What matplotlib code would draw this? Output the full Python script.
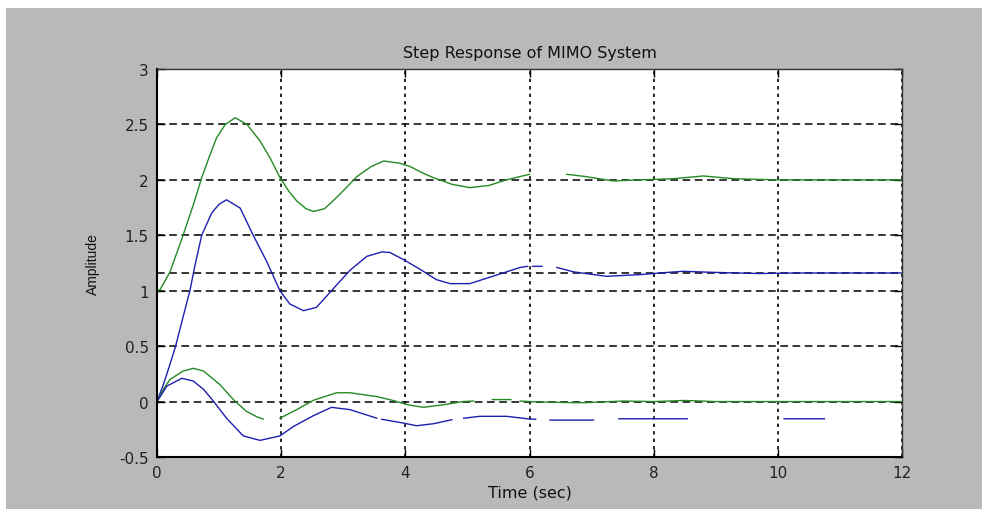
"""
Step response of a 2x2 MIMO system, redrawn in the old MATLAB look
"""

import numpy as np
import matplotlib
matplotlib.use("Agg")
import matplotlib.pyplot as plt
from matplotlib.patches import Rectangle

nan = np.nan

# upper green channel (starts at 1, settles at 2)
t_g1 = [0, 0.05, 0.21, 0.42, 0.6, 0.72, 0.85, 0.96, 1.1, 1.26, 1.45, 1.66, 1.82, 1.98,
        2.12, 2.25, 2.4, 2.52, 2.7, 2.89, 3.05, 3.22, 3.45, 3.65, 3.91, 4.08, 4.25, 4.45,
        4.75, 5.04, 5.35, 5.63, 5.85, 6.0, nan, 6.6, 6.9, 7.35, 7.78, 8.3, 8.8, 9.3, 10, 11, 12]
y_g1 = [1.0, 1.01, 1.17, 1.5, 1.8, 2.02, 2.22, 2.38, 2.5, 2.56, 2.5, 2.35, 2.2, 2.02,
        1.9, 1.81, 1.74, 1.715, 1.74, 1.84, 1.93, 2.03, 2.12, 2.17, 2.15, 2.12, 2.07, 2.02,
        1.96, 1.93, 1.95, 2.0, 2.03, 2.05, nan, 2.05, 2.03, 1.99, 2.0, 2.01, 2.035, 2.01, 2.0, 2.0, 2.0]

# upper blue channel (settles at about 1.16)
t_b1 = [0, 0.1, 0.2, 0.3, 0.4, 0.53, 0.62, 0.72, 0.88, 1.0, 1.12, 1.34, 1.55, 1.77, 1.98, 2.14,
        2.36, 2.57, 2.81, 3.11, 3.38, 3.62, 3.75, 3.99, 4.29, 4.5, 4.72, 5.04, 5.35, 5.63,
        5.85, 5.97, nan, 6.05, 6.2, nan, 6.44, 6.71, 7.24, 7.78, 8.1, 8.47, 9.0, 9.71, 10.3, 11, 12]
y_b1 = [0, 0.15, 0.32, 0.5, 0.72, 1.0, 1.25, 1.5, 1.7, 1.78, 1.82, 1.745, 1.5, 1.26, 1.0, 0.88,
        0.82, 0.85, 1.0, 1.185, 1.31, 1.35, 1.345, 1.275, 1.175, 1.1, 1.064, 1.064, 1.12, 1.17,
        1.21, 1.22, nan, 1.22, 1.22, nan, 1.21, 1.17, 1.13, 1.145, 1.16, 1.175, 1.165, 1.155, 1.16, 1.16, 1.16]

# lower green channel (settles at 0)
t_g2 = [0, 0.1, 0.21, 0.42, 0.585, 0.75, 1.01, 1.23, 1.44, 1.6, 1.71, nan, 1.98, 2.25,
        2.52, 2.89, 3.1, 3.54, 3.8, 4.05, 4.29, 4.6, 4.93, 5.1, nan, 5.4, 5.7, nan, 5.85,
        6.0, 6.27, 6.7, 6.9, 7.5, 8, 8.5, 9, 10, 11, 12]
y_g2 = [0, 0.11, 0.2, 0.275, 0.3, 0.275, 0.155, 0.018, -0.088, -0.135, -0.158, nan, -0.15, -0.073,
        0.012, 0.079, 0.08, 0.045, 0.01, -0.03, -0.052, -0.03, 0.0, 0.005, nan, 0.018, 0.018, nan, 0.005,
        0.0, -0.005, -0.01, -0.01, 0.005, 0.0, 0.01, 0.0, 0.0, 0.0, 0.0]

# lower blue channel (settles at about -0.15, drawn broken after 6 s)
t_b2 = [0, 0.16, 0.4, 0.585, 0.75, 0.91, 1.12, 1.39, 1.66, 1.98, 2.2, 2.52, 2.81, 3.11,
        3.54, nan, 3.62, 3.97, 4.18, 4.45, 4.75, nan, 4.94, 5.2, 5.63, 5.96, 6.1, nan,
        6.33, 7.03, nan, 7.44, 8.54, nan, 10.1, 10.75]
y_b2 = [0, 0.14, 0.21, 0.185, 0.11, 0.003, -0.15, -0.31, -0.35, -0.31, -0.224, -0.127, -0.052, -0.073,
        -0.15, nan, -0.16, -0.194, -0.218, -0.2, -0.164, nan, -0.15, -0.133, -0.133, -0.155, -0.16, nan,
        -0.167, -0.167, nan, -0.155, -0.155, nan, -0.155, -0.155]

steady_blue = 1.16

x_ticks = [0, 2, 4, 6, 8, 10, 12]
y_ticks = [-0.5, 0, 0.5, 1, 1.5, 2, 2.5, 3]
y_tick_labels = ["-0.5", "0", "0.5", "1", "1.5", "2", "2.5", "3"]

GREEN = "#238a23"
BLUE = "#1e1eb0"
GRAY = "#b9b9b9"

fig = plt.figure(figsize=(9.82, 5.10), dpi=100)
fig.patch.set_facecolor("white")
fig.add_artist(Rectangle((6 / 982, 0), 1, 1 - 9 / 510, transform=fig.transFigure,
                         facecolor=GRAY, edgecolor="none", zorder=-1))

ax = fig.add_axes([157 / 982, 1 - 458 / 510, 745 / 982, 388 / 510])
ax.set_facecolor("white")

ax.plot(t_g1, y_g1, color=GREEN, lw=1.0)
ax.plot(t_b1, y_b1, color=BLUE, lw=1.0)
ax.plot(t_g2, y_g2, color=GREEN, lw=1.0)
ax.plot(t_b2, y_b2, color=BLUE, lw=1.0)

# steady-state marker of the blue channel
ax.axhline(steady_blue, color="k", lw=1.1, ls=(0, (5, 3)), zorder=1)

ax.set_xlim(0, 12)
ax.set_ylim(-0.5, 3)
ax.set_xticks(x_ticks)
ax.set_yticks(y_ticks)
ax.set_yticklabels(y_tick_labels)

ax.xaxis.grid(True, color="k", lw=1.2, ls=(0, (2, 2.5)))
ax.yaxis.grid(True, color="k", lw=1.1, ls=(0, (5, 3)))
ax.set_axisbelow(True)

ax.tick_params(direction="in", length=6, width=1, top=True, right=True,
               labelsize=11, pad=6, colors="k")
for lab in ax.get_xticklabels() + ax.get_yticklabels():
    lab.set_family("DejaVu Sans")
    lab.set_color("#222222")

for side in ["left", "bottom"]:
    ax.spines[side].set_linewidth(1.5)
    ax.spines[side].set_color("k")
for side in ["top", "right"]:
    ax.spines[side].set_linewidth(1.0)
    ax.spines[side].set_color("#333333")

ax.set_title("Step Response of MIMO System", family="DejaVu Sans", fontsize=11.5,
             color="#111111", pad=9)
ax.set_xlabel("Time (sec)", family="DejaVu Sans", fontsize=11.5, color="#111111", labelpad=3)
ax.set_ylabel("Amplitude", family="Liberation Sans", fontsize=10, color="#111111", labelpad=14)

fig.savefig("out.png", dpi=100, facecolor=fig.get_facecolor())
